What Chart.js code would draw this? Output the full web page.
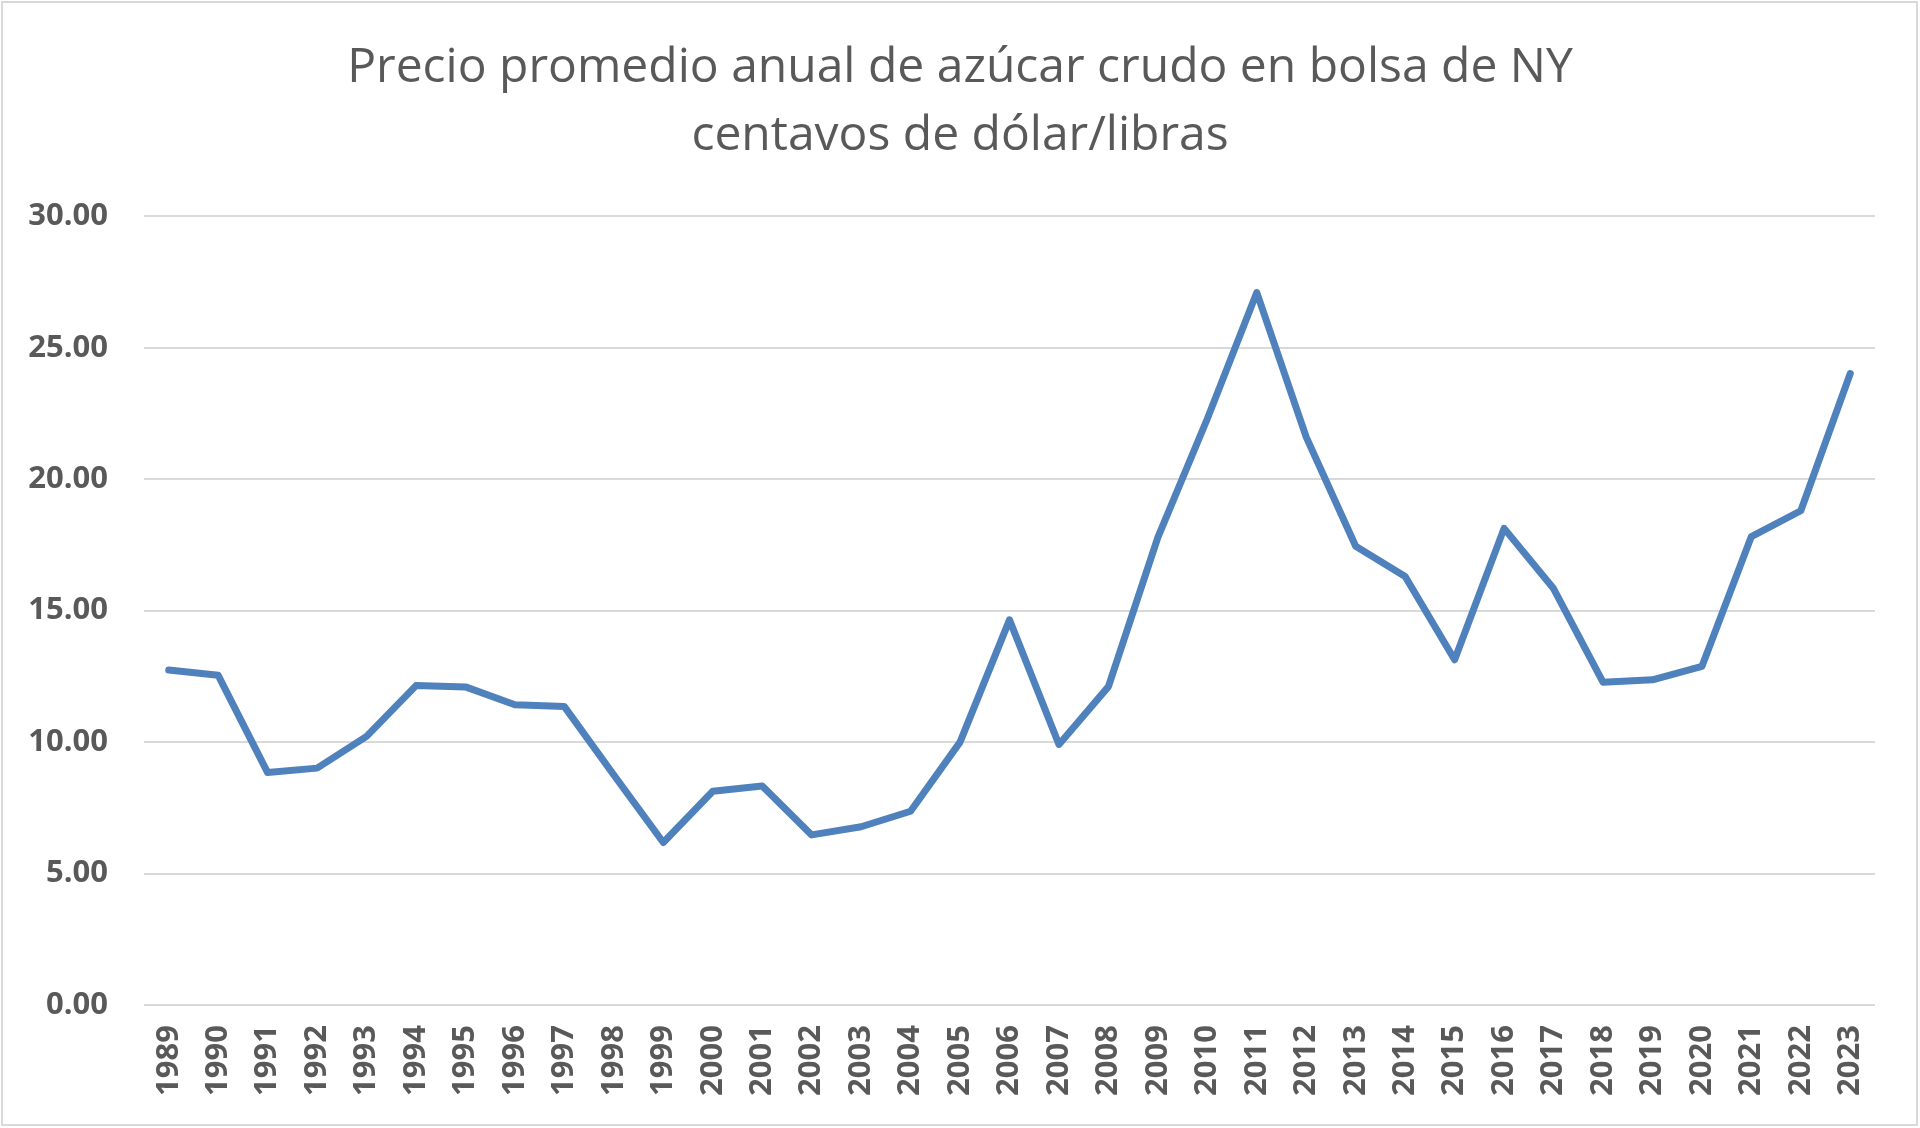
<!DOCTYPE html>
<html>
<head>
<meta charset="utf-8">
<script src="https://cdn.jsdelivr.net/npm/chart.js@4/dist/chart.umd.min.js"></script>
<style>
  html, body { margin: 0; padding: 0; background: #ffffff; }
  #wrap { width: 1920px; height: 1128px; position: relative; }
  canvas { display: block; }
</style>
</head>
<body>
<div id="wrap"><canvas id="c" width="1920" height="1128"></canvas></div>
<script>
const years = ["1989","1990","1991","1992","1993","1994","1995","1996","1997","1998","1999","2000","2001","2002","2003","2004","2005","2006","2007","2008","2009","2010","2011","2012","2013","2014","2015","2016","2017","2018","2019","2020","2021","2022","2023"];
const prices = [12.74, 12.54, 8.84, 9.01, 10.22, 12.15, 12.10, 11.42, 11.35, 8.75, 6.18, 8.13, 8.33, 6.47, 6.78, 7.37, 10.00, 14.65, 9.91, 12.11, 17.79, 22.30, 27.10, 21.60, 17.45, 16.30, 13.13, 18.13, 15.84, 12.28, 12.37, 12.88, 17.82, 18.80, 24.02];
const titleLines = ["Precio promedio anual de azúcar crudo en bolsa de NY", "centavos de dólar/libras"];
const yTicks = [0, 5, 10, 15, 20, 25, 30];

const frame = {
  id: 'frame',
  beforeDraw(chart) {
    const ctx = chart.ctx;
    ctx.save();
    ctx.fillStyle = '#ffffff';
    ctx.fillRect(0, 0, chart.width, chart.height);
    ctx.strokeStyle = '#d9d9d9';
    ctx.lineWidth = 2;
    ctx.strokeRect(2, 2, 1915, 1123);
    ctx.restore();
  }
};

new Chart(document.getElementById('c'), {
  type: 'line',
  data: {
    labels: years,
    datasets: [{
      label: 'Precio',
      data: prices,
      yAxisID: 'y',
      borderColor: '#4f81bd',
      borderWidth: 7,
      pointRadius: 0,
      tension: 0,
      borderJoinStyle: 'round',
      borderCapStyle: 'round',
      fill: false
    }]
  },
  options: {
    responsive: false,
    animation: false,
    devicePixelRatio: 1,
    layout: { padding: { left: 0, right: 0, top: 0, bottom: 0 } },
    plugins: {
      legend: { display: false },
      tooltip: { enabled: false },
      title: {
        display: true,
        text: titleLines,
        color: '#595959',
        font: { family: 'Open Sans', size: 48, weight: 'normal', lineHeight: 1.42 },
        padding: { top: 34, bottom: 46 }
      }
    },
    scales: {
      x: {
        offset: true,
        grid: { display: false, drawTicks: false },
        border: { display: false },
        ticks: {
          color: '#595959',
          font: { family: 'Open Sans', size: 31, weight: 'bold' },
          minRotation: 90,
          maxRotation: 90,
          autoSkip: false,
          padding: 20
        },
        afterFit(scale) { scale.height = 123; }
      },
      y: {
        min: 0,
        max: 30,
        afterBuildTicks(scale) { scale.ticks = yTicks.map(v => ({ value: v })); },
        grid: { color: '#d9d9d9', lineWidth: 2, drawTicks: false },
        border: { display: false },
        ticks: {
          color: '#595959',
          font: { family: 'Open Sans', size: 31, weight: 'bold' },
          padding: 36,
          callback: v => Number(v).toFixed(2)
        },
        afterFit(scale) { scale.width = 144; }
      },
      yRight: {
        position: 'right',
        min: 0,
        max: 30,
        grid: { display: false, drawTicks: false },
        border: { display: false },
        ticks: { display: false },
        afterFit(scale) { scale.width = 45; }
      }
    }
  },
  plugins: [frame]
});
</script>
</body>
</html>
